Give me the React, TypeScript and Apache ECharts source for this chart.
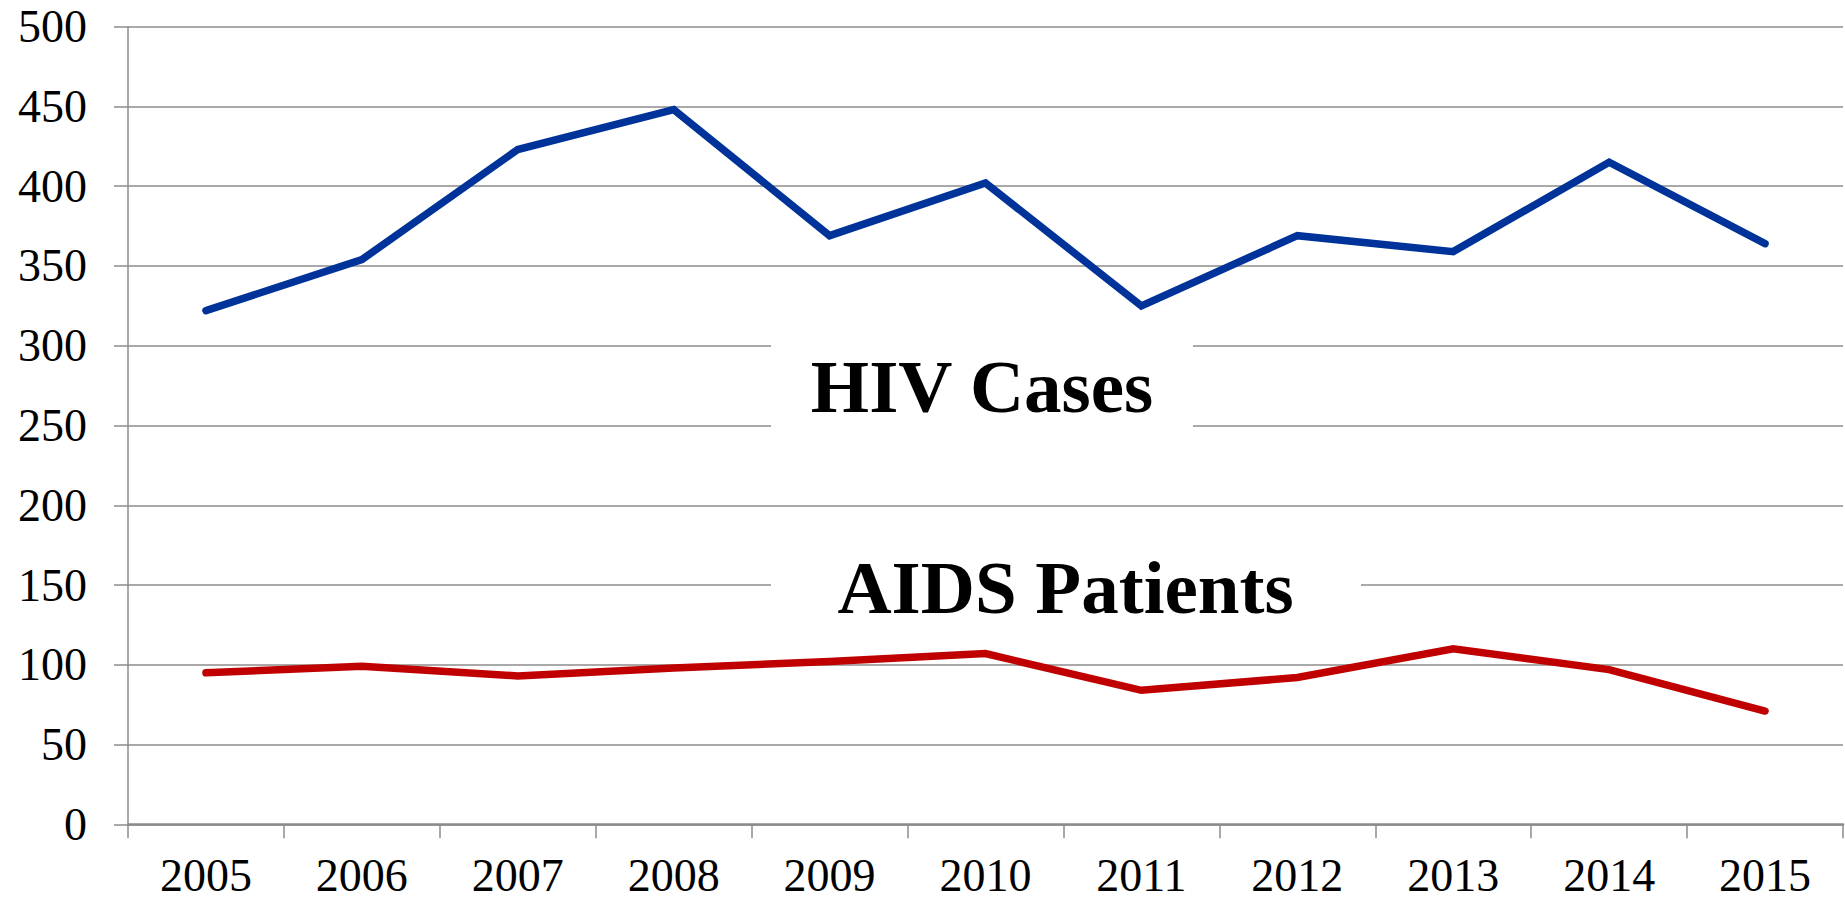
import React, { useEffect, useRef } from "react";
import * as echarts from "echarts";

const years = ["2005", "2006", "2007", "2008", "2009", "2010", "2011", "2012", "2013", "2014", "2015"];
const hivCases = [322, 354, 423, 448, 369, 402, 325, 369, 359, 415, 364];
const aidsPatients = [95, 99, 93, 98, 102, 107, 84, 92, 110, 97, 71];
const hivLabel = "HIV Cases";
const aidsLabel = "AIDS Patients";

const serif = "'Times New Roman', 'Liberation Serif', serif";
const gridGray = "#8c8c8c";

export default function App() {
  const ref = useRef<HTMLDivElement>(null);
  useEffect(() => {
    if (!ref.current) return;
    const chart = echarts.init(ref.current, undefined, { renderer: "svg" });
    chart.setOption({
      animation: false,
      backgroundColor: "#ffffff",
      grid: { left: 128, right: 2, top: 26.7, bottom: 78.7, containLabel: false },
      xAxis: {
        type: "category",
        data: years,
        boundaryGap: true,
        axisLine: { lineStyle: { color: gridGray, width: 2.5 } },
        axisTick: { show: true, length: 14, inside: false, lineStyle: { color: gridGray, width: 1.5 } },
        axisLabel: { color: "#000", fontFamily: serif, fontSize: 46, lineHeight: 44, margin: 29 },
        splitLine: { show: false },
      },
      yAxis: {
        type: "value",
        min: 0,
        max: 500,
        interval: 50,
        axisLine: { show: true, lineStyle: { color: gridGray, width: 1.5 } },
        axisTick: { show: true, length: 14, lineStyle: { color: gridGray, width: 1.5 } },
        axisLabel: { color: "#000", fontFamily: serif, fontSize: 46, margin: 41 },
        splitLine: { show: true, lineStyle: { color: gridGray, width: 1.5 } },
      },
      graphic: [
        { type: "rect", z: 1, shape: { x: 771, y: 335, width: 422, height: 105 }, style: { fill: "#ffffff" } },
        { type: "rect", z: 1, shape: { x: 771, y: 535, width: 590, height: 105 }, style: { fill: "#ffffff" } },
        {
          type: "text",
          z: 3,
          x: 982,
          y: 386,
          style: { text: hivLabel, fill: "#000", font: `bold 75px ${serif}`, align: "center", verticalAlign: "middle" },
        },
        {
          type: "text",
          z: 3,
          x: 1065.5,
          y: 587,
          style: { text: aidsLabel, fill: "#000", font: `bold 75px ${serif}`, align: "center", verticalAlign: "middle" },
        },
      ],
      series: [
        {
          name: hivLabel,
          type: "line",
          data: hivCases,
          showSymbol: false,
          symbol: "none",
          z: 2,
          lineStyle: { color: "#003399", width: 7.5, cap: "round", join: "miter" },
        },
        {
          name: aidsLabel,
          type: "line",
          data: aidsPatients,
          showSymbol: false,
          symbol: "none",
          z: 2,
          lineStyle: { color: "#c00000", width: 7.5, cap: "round", join: "miter" },
        },
      ],
    });
    return () => chart.dispose();
  }, []);
  return (
    <div
      ref={ref}
      style={{ position: "fixed", left: 0, top: 0, width: 1845, height: 903, background: "#fff" }}
    />
  );
}
